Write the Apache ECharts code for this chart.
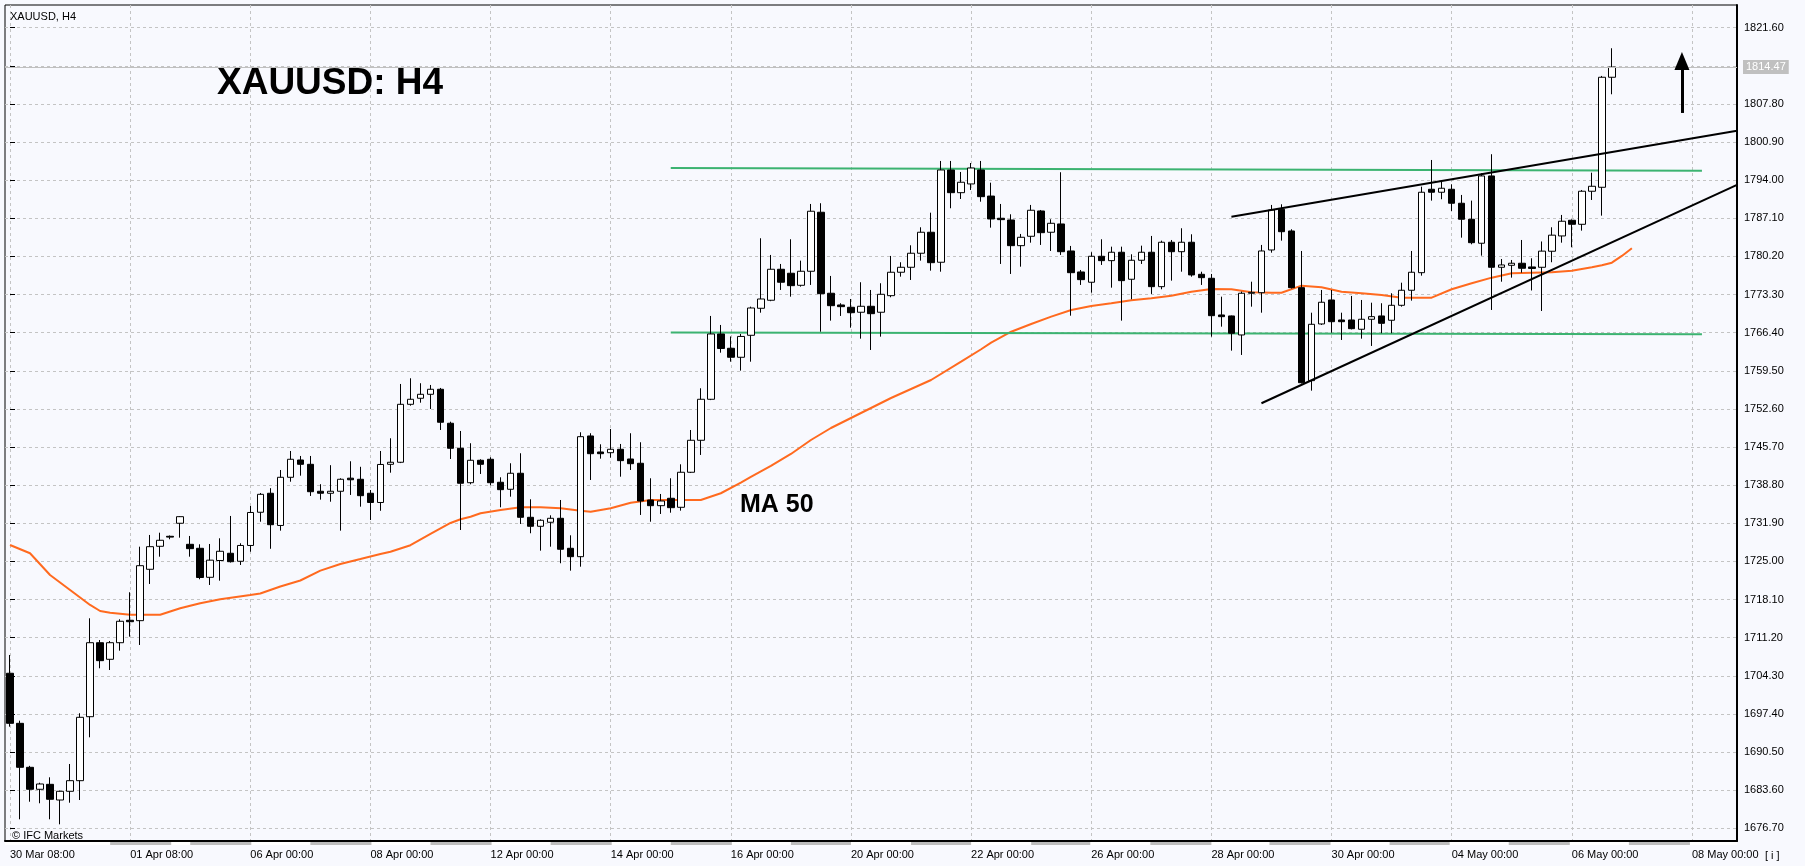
<!DOCTYPE html>
<html><head><meta charset="utf-8">
<script src="https://cdn.jsdelivr.net/npm/echarts@6/dist/echarts.min.js"></script>
<style>html,body{margin:0;padding:0;background:#f8f9fe;}#c{width:1805px;height:866px;}</style>
</head><body><div id="c"></div>
<script>
// ---- data ----
const timeLabels = ['30 Mar 08:00','01 Apr 08:00','06 Apr 00:00','08 Apr 00:00','12 Apr 00:00','14 Apr 00:00','16 Apr 00:00','20 Apr 00:00','22 Apr 00:00','26 Apr 00:00','28 Apr 00:00','30 Apr 00:00','04 May 00:00','06 May 00:00','08 May 00:00'];
// [open, close, low, high]
const candles = [
[1704.76,1695.70,1695.09,1708.07],[1695.70,1687.74,1678.33,1696.18],[1687.74,1683.76,1681.51,1688.00],[1683.76,1684.72,1681.23,1684.95],
[1684.66,1681.95,1678.33,1685.93],[1681.82,1683.40,1677.42,1683.50],[1683.40,1685.32,1681.33,1688.34],[1685.32,1696.79,1681.82,1697.52],
[1696.90,1710.29,1693.17,1714.71],[1710.29,1707.04,1705.66,1710.78],[1707.29,1710.29,1705.35,1710.60],[1710.29,1714.17,1708.85,1714.53],
[1714.35,1714.09,1711.38,1719.42],[1714.28,1724.23,1709.88,1727.67],[1723.58,1727.67,1720.92,1729.79],[1727.74,1728.83,1725.86,1730.20],
[1729.55,1729.40,1729.01,1729.70],[1731.91,1733.10,1729.30,1733.20],[1728.10,1727.31,1725.86,1729.61],[1727.38,1722.09,1721.77,1728.10],
[1722.13,1725.23,1720.74,1728.16],[1725.17,1726.84,1721.52,1729.19],[1726.48,1724.95,1724.80,1733.23],[1725.03,1727.89,1724.36,1728.29],
[1727.89,1733.86,1726.76,1735.04],[1733.90,1737.15,1732.19,1737.39],[1737.34,1731.65,1727.29,1738.26],[1731.51,1740.23,1730.57,1741.55],
[1740.23,1743.49,1739.43,1744.99],[1743.36,1742.58,1740.52,1744.09],[1742.58,1737.62,1736.85,1744.09],[1737.70,1737.34,1736.18,1738.98],
[1737.34,1737.70,1735.81,1742.42],[1737.70,1739.87,1730.57,1740.05],[1740.07,1739.78,1737.03,1743.13],[1739.87,1736.90,1734.91,1742.13],
[1737.34,1735.67,1732.50,1737.93],[1735.67,1742.55,1734.17,1744.99],[1742.58,1742.95,1741.06,1747.29],[1742.95,1753.44,1742.80,1757.12],
[1753.44,1754.35,1753.19,1758.15],[1754.53,1755.25,1753.73,1757.25],[1755.25,1756.16,1752.59,1756.94],[1756.16,1750.19,1748.79,1756.40],
[1750.01,1745.48,1743.54,1750.29],[1745.48,1739.15,1730.69,1748.61],[1739.25,1743.31,1738.96,1746.39],[1743.31,1742.58,1740.83,1743.49],
[1743.49,1739.25,1738.78,1743.85],[1739.33,1737.99,1734.80,1740.23],[1738.06,1740.96,1736.72,1742.77],[1740.96,1732.99,1731.78,1744.58],
[1732.99,1731.36,1730.10,1736.25],[1731.36,1732.45,1726.95,1732.63],[1732.09,1732.81,1727.67,1733.35],[1732.81,1727.20,1724.67,1736.12],
[1727.38,1725.86,1723.33,1729.73],[1725.86,1747.58,1724.05,1748.38],[1747.71,1744.50,1739.74,1748.20],[1744.81,1744.50,1743.60,1746.20],
[1744.68,1745.30,1743.78,1748.97],[1745.30,1743.24,1740.34,1746.26],[1743.54,1742.69,1741.55,1748.20],[1742.77,1735.94,1733.41,1746.57],
[1736.12,1735.09,1732.19,1740.05],[1735.09,1735.94,1733.59,1737.21],[1736.43,1734.73,1733.82,1740.05],[1734.80,1741.14,1734.19,1742.58],
[1741.14,1746.93,1741.00,1748.79],[1746.93,1754.35,1744.27,1756.34],[1754.35,1766.17,1754.20,1769.43],[1766.17,1763.54,1762.78,1767.80],
[1763.58,1761.95,1761.15,1765.72],[1761.95,1765.72,1759.53,1766.17],[1765.93,1770.87,1761.15,1771.11],[1770.82,1772.50,1770.02,1783.49],
[1772.27,1777.88,1772.10,1780.47],[1777.88,1775.53,1774.13,1778.84],[1777.16,1774.91,1772.92,1783.31],[1774.98,1777.52,1774.73,1779.44],
[1777.52,1788.38,1775.04,1789.70],[1788.20,1773.46,1766.58,1789.83],[1773.54,1771.29,1768.58,1776.67],[1771.42,1771.11,1769.43,1771.73],
[1771.00,1770.02,1767.31,1772.50],[1770.10,1771.18,1765.32,1775.53],[1771.18,1769.84,1763.27,1774.13],[1770.10,1773.35,1765.68,1775.35],
[1773.10,1777.34,1772.81,1780.29],[1777.34,1778.24,1776.54,1779.15],[1778.24,1780.78,1775.94,1782.22],[1780.78,1784.58,1779.44,1785.48],
[1784.58,1779.07,1777.63,1788.12],[1779.15,1795.85,1777.44,1797.48],[1795.85,1791.74,1788.92,1797.48],[1791.74,1793.63,1790.60,1795.49],
[1793.32,1796.21,1792.23,1797.11],[1795.85,1791.02,1790.11,1797.48],[1791.13,1786.98,1785.41,1793.55],[1787.11,1786.86,1778.84,1789.70],
[1786.80,1782.15,1777.03,1787.83],[1782.15,1783.67,1778.35,1784.27],[1783.85,1788.56,1782.69,1789.52],[1788.43,1784.50,1782.28,1788.61],
[1784.58,1786.20,1781.19,1786.93],[1786.08,1781.06,1780.47,1795.44],[1781.19,1777.26,1769.48,1782.10],[1777.39,1776.00,1775.04,1777.75],
[1775.53,1780.23,1773.64,1780.96],[1780.23,1779.44,1778.66,1783.31],[1779.44,1780.96,1774.55,1781.97],[1780.96,1775.82,1768.58,1781.97],
[1776.07,1779.51,1772.45,1780.59],[1779.51,1780.96,1778.84,1782.15],[1780.96,1774.73,1773.41,1783.91],[1774.73,1782.77,1774.26,1783.06],
[1782.77,1781.06,1775.82,1783.18],[1781.06,1782.77,1777.44,1785.30],[1782.77,1776.85,1776.54,1784.21],[1776.97,1776.36,1775.04,1777.44],
[1776.25,1769.48,1765.68,1777.03],[1769.61,1769.30,1767.49,1772.92],[1769.43,1766.30,1763.15,1769.50],[1765.99,1773.54,1762.37,1773.83],
[1773.54,1773.70,1771.11,1775.63],[1773.64,1781.19,1770.02,1782.28],[1781.37,1788.61,1780.88,1789.52],[1788.74,1784.68,1783.06,1789.64],
[1784.81,1774.55,1774.40,1785.12],[1774.55,1757.35,1757.20,1781.19],[1757.72,1767.92,1755.91,1770.02],[1767.98,1771.91,1767.80,1774.13],
[1772.32,1768.39,1766.40,1774.13],[1768.70,1768.39,1765.08,1770.02],[1768.70,1767.13,1767.00,1773.05],[1767.02,1768.83,1765.32,1772.32],
[1768.83,1769.30,1764.00,1771.83],[1769.43,1768.10,1766.30,1771.73],[1768.65,1771.36,1766.30,1773.54],[1771.36,1774.08,1771.11,1775.45],
[1774.08,1777.34,1772.20,1781.19],[1777.26,1791.82,1776.72,1792.83],[1792.36,1791.82,1790.30,1797.66],[1791.82,1792.54,1790.55,1793.73],
[1792.36,1789.83,1788.43,1793.26],[1789.83,1786.93,1783.60,1791.33],[1786.93,1782.69,1782.40,1790.30],[1782.59,1794.77,1780.34,1795.26],
[1794.77,1778.24,1770.51,1798.70],[1778.24,1778.66,1775.63,1779.74],[1778.60,1778.97,1776.36,1779.56],[1778.97,1778.06,1777.26,1783.18],
[1778.30,1778.03,1774.04,1779.87],[1778.24,1781.16,1770.33,1782.91],[1781.14,1784.05,1779.15,1785.48],[1783.91,1786.57,1782.69,1787.71],
[1786.75,1786.02,1781.86,1786.90],[1786.02,1792.00,1784.87,1792.23],[1792.00,1792.90,1790.42,1795.36],[1792.72,1812.63,1787.58,1812.87],
[1812.63,1814.47,1809.55,1817.88]
];
// MA 50 read at bar positions: [barIndex, value]
const ma50 = [[0,1727.98],[2,1726.48],[4,1722.55],[6,1719.83],[8,1717.12],[9,1716.03],[10,1715.72],[12,1715.36],[15,1715.36],[17,1716.52],
[19,1717.43],[21,1718.15],[24,1718.93],[25,1719.20],[27,1720.47],[29,1721.55],[31,1723.33],[33,1724.54],[35,1725.44],[37,1726.35],
[38,1726.76],[40,1727.94],[42,1729.97],[44,1731.96],[45,1732.63],[46,1733.10],[47,1733.72],[49,1734.31],[51,1734.80],[53,1734.80],
[55,1734.62],[57,1734.19],[58,1734.00],[60,1734.62],[62,1735.63],[64,1736.12],[67,1736.12],[69,1736.12],[71,1737.34],[73,1739.25],
[74,1740.29],[76,1742.28],[78,1744.45],[80,1746.98],[82,1749.15],[84,1750.96],[86,1752.77],[88,1754.58],[90,1756.21],[92,1757.84],
[95,1761.15],[97,1763.40],[98,1764.59],[100,1766.58],[102,1767.98],[104,1769.30],[106,1770.51],[108,1771.24],[110,1771.73],[112,1772.27],
[114,1772.63],[116,1773.10],[118,1773.82],[120,1774.31],[122,1774.26],[124,1773.72],[126,1773.64],[127,1773.64],[129,1774.91],[131,1774.62],
[133,1773.82],[135,1773.54],[137,1773.23],[139,1772.74],[142,1772.74],[144,1774.26],[146,1775.35],[148,1776.36],[150,1777.16],[152,1777.26],
[154,1777.34],[156,1777.63],[158,1778.24],[159,1778.60],[160,1779.07],[161,1780.29],[162,1781.68]];
const resistance = [[66,1796.21],[169,1795.73]];
const support = [[66,1766.42],[169,1766.11]];
const channelUpper = [[122,1787.37],[172.5,1802.95]];
const channelLower = [[125,1753.63],[172.5,1793.14]];
const arrowUp = [[167,1806.17],[167,1815.58]];
const lastPrice = 1814.47;
const yTicks = {min:1676.7, max:1821.6, step:6.9};
// shaded day bands of the strip under the time scale, in bar units [from, to]
const dateBands = [[10,16.1],[18,24.1],[30,36.1],[42,48.1],[54,60.1],[66,72.1],[78,84],[90,96],[102,107.9],[113.9,120],[125.8,131.9],[137.8,143.8],[149.7,155.8],[161.7,167.8]];
const SLOTS = 173;
const categories = Array.from({length:SLOTS},(_,i)=>String(i));

// ---- chart ----
const FONT = '"Liberation Sans", Arial, sans-serif';
const chart = echarts.init(document.getElementById('c'), null, {width:1805, height:866});
const lineSeries = (data, color, width, z) => ({
  type:'line', xAxisIndex:1, yAxisIndex:0, data, symbol:'none', showSymbol:false, silent:true,
  lineStyle:{color, width}, itemStyle:{color}, z, animation:false
});
chart.setOption({
  backgroundColor:'#f8f9fe',
  animation:false,
  grid:[
    {left:5, right:68, top:27.7, bottom:37.7, show:false},
    {left:5, right:68, top:5, bottom:25, show:true, borderColor:'#000', borderWidth:1, backgroundColor:'rgba(0,0,0,0)'},
    {left:10.006, right:68, top:5, bottom:25, show:false},
    {left:5, right:68, top:842, bottom:21, show:true, borderWidth:0, backgroundColor:'#ffffff'}
  ],
  xAxis:[
    {type:'category', gridIndex:0, data:categories, boundaryGap:true, show:false},
    {type:'value', gridIndex:0, min:-0.5, max:172.5, show:false},
    {type:'value', gridIndex:1, min:0, max:1, axisLine:{show:true, onZero:false, lineStyle:{color:'#000', width:2}},
      axisTick:{show:false}, axisLabel:{show:false}, splitLine:{show:false}},
    {type:'value', gridIndex:2, min:0, max:172.5, interval:12, axisLine:{show:false}, axisTick:{show:false},
      axisLabel:{show:true, align:'left', margin:8, color:'#000', fontSize:11, fontFamily:FONT, showMaxLabel:false,
        formatter:v=>{const k=Math.round(v/12);return (Math.abs(v-k*12)<1e-6&&k>=0&&k<timeLabels.length)?timeLabels[k]:'';}},
      splitLine:{show:true, lineStyle:{color:'#c4c4c4', width:1, type:[3,3]}}},
    {type:'value', gridIndex:3, min:-0.5, max:172.5, show:false}
  ],
  yAxis:[
    {type:'value', gridIndex:0, position:'right', min:yTicks.min, max:yTicks.max, interval:yTicks.step,
      axisLine:{show:false}, axisTick:{show:true, inside:false, length:5, lineStyle:{color:'#000'}},
      axisLabel:{show:true, margin:7, color:'#000', fontSize:11, fontFamily:FONT, formatter:v=>v.toFixed(2)},
      splitLine:{show:true, lineStyle:{color:'#c4c4c4', width:1, type:[3,3]}}},
    {type:'value', gridIndex:1, position:'right', min:0, max:1, axisLine:{show:true, onZero:false, lineStyle:{color:'#000', width:2}},
      axisTick:{show:false}, axisLabel:{show:false}, splitLine:{show:false}},
    {type:'value', gridIndex:2, show:false},
    {type:'value', gridIndex:3, min:0, max:1, show:false}
  ],
  series:[
    {type:'candlestick', xAxisIndex:0, yAxisIndex:0, data:candles, barWidth:7, z:3, silent:true,
      itemStyle:{color:'#ffffff', color0:'#000000', borderColor:'#000000', borderColor0:'#000000', borderColorDoji:'#000000', borderWidth:1},
      markLine:{silent:true, symbol:['none','none'], animation:false, data:[{yAxis:lastPrice}],
        lineStyle:{color:'#c0c0c0', type:'solid', width:1},
        label:{show:true, position:'end', distance:6, formatter:lastPrice.toFixed(2), color:'#ffffff', backgroundColor:'#c0c0c0',
          padding:[2,3,1,3], fontSize:11, fontFamily:FONT}}},
    lineSeries(ma50, '#ff6a1f', 2, 2),
    lineSeries(resistance, '#3cb371', 2, 2),
    lineSeries(support, '#3cb371', 2, 2),
    lineSeries(channelUpper, '#000000', 2, 4),
    lineSeries(channelLower, '#000000', 2, 4),
    {type:'line', xAxisIndex:1, yAxisIndex:0, data:[], silent:true, z:5,
      markLine:{silent:true, animation:false, symbol:['none','triangle'],
        lineStyle:{color:'#000', width:3, type:'solid'}, label:{show:false},
        data:[[{coord:arrowUp[0], symbol:'none'},{coord:arrowUp[1], symbol:'triangle', symbolSize:[15,18]}]]}},
    {type:'line', xAxisIndex:4, yAxisIndex:3, data:[], silent:true,
      markArea:{silent:true, animation:false, itemStyle:{color:'#bdbdbd'}, label:{show:false},
        data:dateBands.map(b=>[{xAxis:b[0]},{xAxis:b[1]}])}}
  ],
  graphic:[
    {type:'text', x:10, y:17, z:10, style:{text:'XAUUSD, H4', font:'11px '+FONT, fill:'#000', align:'left', verticalAlign:'middle'}},
    {type:'text', x:217, y:84, z:10, style:{text:'XAUUSD: H4', font:'bold 37px '+FONT, fill:'#000', align:'left', verticalAlign:'middle'}},
    {type:'text', x:740, y:505, z:10, style:{text:'MA 50', font:'bold 25px '+FONT, fill:'#000', align:'left', verticalAlign:'middle'}},
    {type:'text', x:12, y:836, z:10, style:{text:'© IFC Markets', font:'11px '+FONT, fill:'#000', align:'left', verticalAlign:'middle'}},
    {type:'text', x:1765, y:856, z:10, style:{text:'[ i ]', font:'11px '+FONT, fill:'#000', align:'left', verticalAlign:'middle'}}
  ]
});
</script></body></html>
